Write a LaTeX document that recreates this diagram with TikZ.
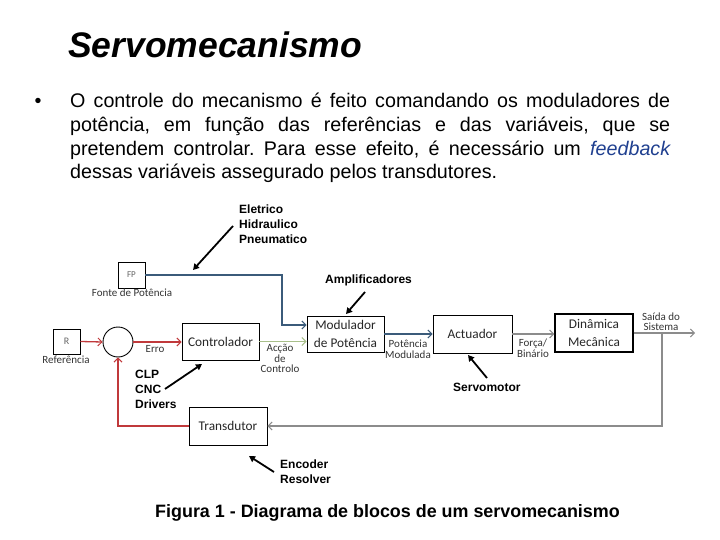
\documentclass[tikz,border=0pt]{standalone}
\usepackage{fontspec}
\setmainfont{Liberation Sans}
\newfontfamily\calfont{Carlito}
\usetikzlibrary{arrows.meta,calc}
\definecolor{redl}{HTML}{C0393B}
\definecolor{bluel}{HTML}{3B5B7A}
\definecolor{greenl}{HTML}{A8BF8A}
\definecolor{greyl}{HTML}{8C8C8C}
\definecolor{fbblue}{HTML}{1F3F8F}
\definecolor{lbl}{HTML}{333333}
\frenchspacing
\begin{document}
\begin{tikzpicture}[x=1pt,y=-1pt,
  blk/.style={draw,line width=0.9pt,inner sep=0,align=center,font=\calfont\fontsize{13.3}{18}\selectfont,text=black!85},
  small/.style={font=\calfont\fontsize{11}{10.5}\selectfont,text=lbl,align=center,inner sep=0},
  note/.style={font=\bfseries\fontsize{12}{15}\selectfont,align=left,inner sep=0},
  opena/.style={-{Straight Barb[length=4pt,width=8pt,line width=1pt]}},
  annot/.style={line width=1.8pt,-{Triangle[length=6pt,width=6.5pt]}}
]
\useasboundingbox (0,0) rectangle (720,540);
% title and text
\node[anchor=base west,inner sep=0,font=\bfseries\itshape\fontsize{35.5}{40}\selectfont] (title) at (68,58) {Servomecanismo};
\node[anchor=base,inner sep=0,font=\fontsize{19.7}{24}\selectfont] (bul) at (38,108) {\textbullet};
\node[anchor=north west,inner sep=0,text width=600pt,align=justify,font=\fontsize{19.7}{23.7}\selectfont] (para) at (70,93)
{O controle do mecanismo é feito comandando os moduladores de\linebreak potência, em função das referências e das variáveis, que se\linebreak pretendem controlar. Para esse efeito, é necessário um \textcolor{fbblue}{\itshape feedback}\linebreak dessas variáveis assegurado pelos transdutores.};
% blocks
\node[blk,minimum width=27pt,minimum height=26pt,font=\calfont\fontsize{9}{9}\selectfont,text=black!60] (fp) at (131.5,275) {FP};
\node[small,anchor=north] (fpl) at (132,289) {Fonte de Potência};
\node[blk,minimum width=27pt,minimum height=25pt,font=\calfont\fontsize{10}{10}\selectfont,text=black!60] (r) at (66.5,341.5) {R};
\node[small,anchor=north] (rl) at (66,355.5) {Referência};
\node[draw,circle,line width=0.9pt,minimum size=30pt,inner sep=0] (sum) at (118,342) {};
\node[blk,minimum width=77pt,minimum height=37pt] (ctrl) at (220.5,341.5) {Controlador};
\node[blk,minimum width=77pt,minimum height=36pt] (mod) at (345.5,334) {Modulador\\de Potência};
\node[blk,minimum width=79pt,minimum height=38pt] (act) at (472.5,334) {Actuador};
\node[blk,line width=1.4pt,minimum width=78pt,minimum height=38pt] (din) at (594,333) {Dinâmica\\Mecânica};
\node[blk,minimum width=78pt,minimum height=38pt] (td) at (228,426) {Transdutor};
% connector labels
\node[small,anchor=north] (erro) at (155,345.5) {Erro};
\node[small,anchor=north] (acc) at (280,344) {Acção\\de\\Controlo};
\node[small,anchor=north] (pmod) at (408,340) {Potência\\Modulada};
\node[small,anchor=north] (forca) at (533,339) {Força/\\Binário};
\node[small,anchor=south] (saida) at (661,331) {Saída do\\Sistema};
% connectors
\coordinate (bend) at (282,325);
\draw[bluel,line width=1.8pt,opena] (fp.east) -| (bend) -- (bend -| mod.west);
\draw[redl,line width=1.3pt,opena] (r.east) -- (sum.west);
\draw[redl,line width=1.3pt,opena] (sum.east) -- (sum.east -| ctrl.west);
\draw[greenl,line width=1.3pt,opena] (ctrl.east) -- (ctrl.east -| mod.west);
\draw[bluel,line width=1.8pt,opena] (mod.east) -- (act.west);
\draw[greyl,line width=1.8pt,opena] (act.east) -- (act.east -| din.west);
\coordinate (out) at (695,333);
\draw[greyl,line width=1.8pt,opena] (din.east) -- (out);
\coordinate (tap) at (662,333);
\draw[greyl,line width=1.3pt,opena] (tap) |- (td.east);
\draw[redl,line width=1.3pt,opena] (td.west) -| (sum.south);
% annotations
\node[note,anchor=north west] (elec) at (239,205) {Eletrico\\Hidraulico\\Pneumatico};
\coordinate (e1) at (233,226);
\coordinate (e2) at (193,270);
\draw[annot] (e1) -- (e2);
\node[note,anchor=north west] (amp) at (325,275) {Amplificadores};
\coordinate (a1) at (365,292);
\coordinate (a2) at (346,314);
\draw[annot] (a1) -- (a2);
\node[note,anchor=north west] (servo) at (453,383) {Servomotor};
\coordinate (s1) at (487,378);
\coordinate (s2) at (468,355);
\draw[annot] (s1) -- (s2);
\node[note,anchor=north west] (clp) at (135,370) {CLP\\CNC\\Drivers};
\coordinate (c1) at (165,389);
\coordinate (c2) at (202,364);
\draw[annot] (c1) -- (c2);
\node[note,anchor=north west] (enc) at (280,460) {Encoder\\Resolver};
\coordinate (n1) at (274,472);
\coordinate (n2) at (249,456);
\draw[annot] (n1) -- (n2);
% caption
\node[anchor=base,inner sep=0,font=\bfseries\fontsize{17.9}{20}\selectfont] (cap) at (387.5,517) {Figura 1 - Diagrama de blocos de um servomecanismo};
\end{tikzpicture}
\end{document}
